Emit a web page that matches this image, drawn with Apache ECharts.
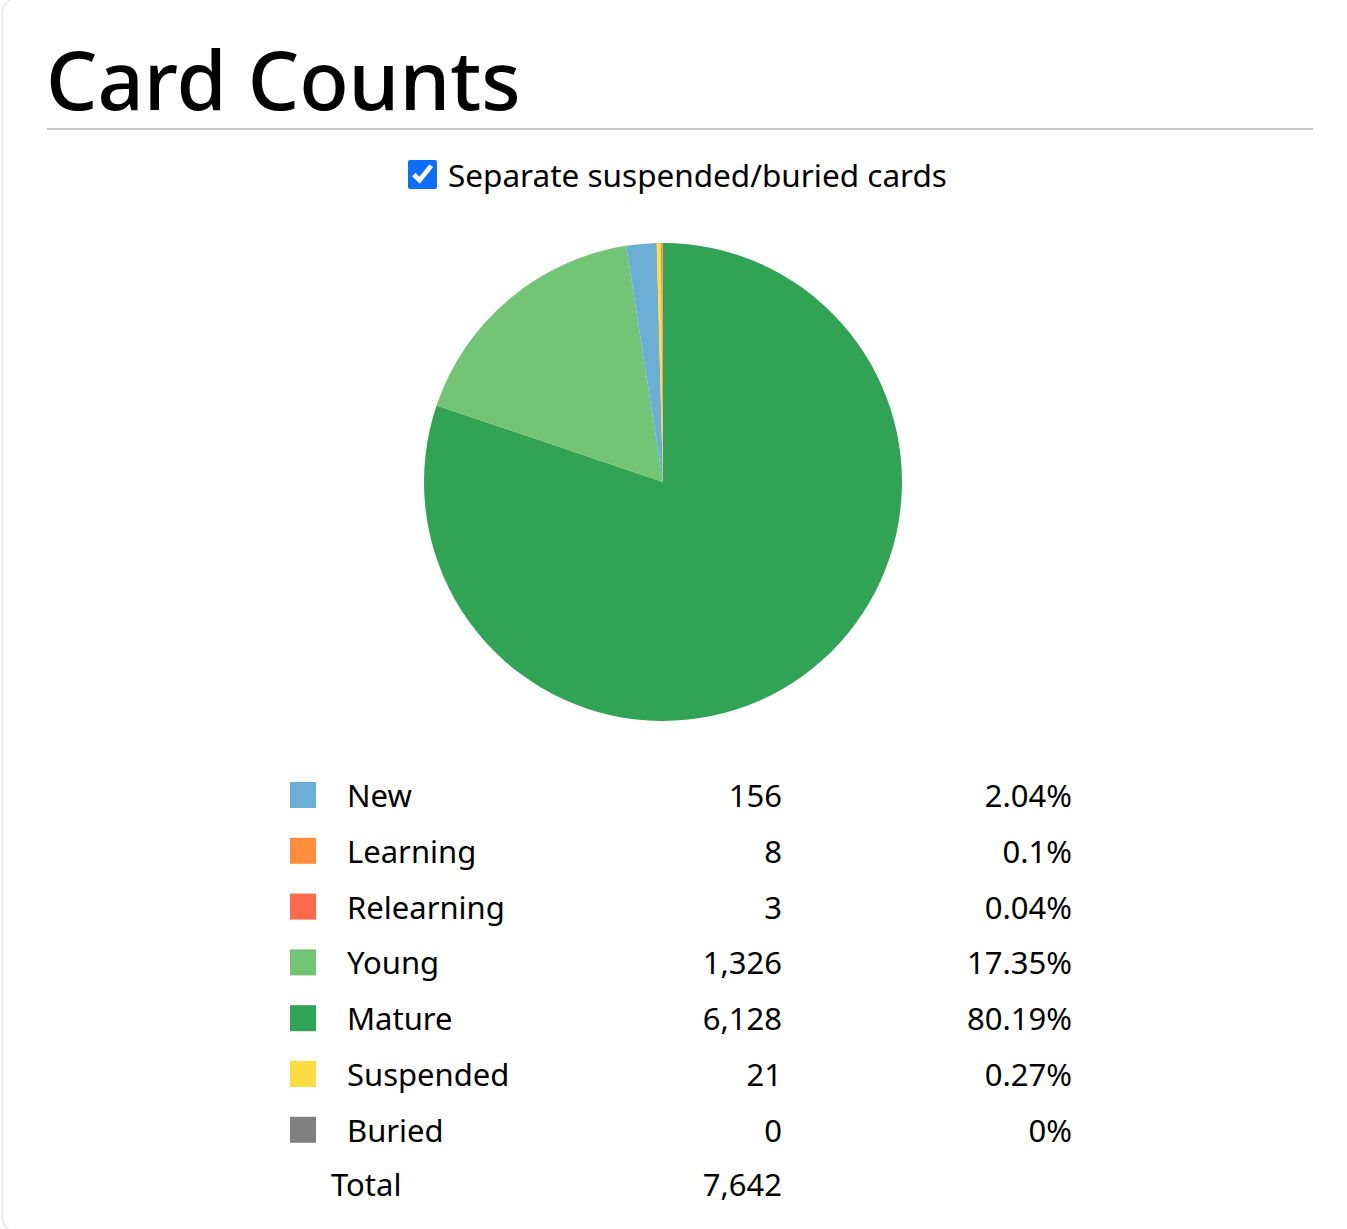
<!DOCTYPE html>
<html>
<head>
<meta charset="utf-8">
<title>Card Counts</title>
<script src="https://cdn.jsdelivr.net/npm/echarts@6/dist/echarts.min.js"></script>
<style>
  html, body { margin: 0; padding: 0; background: #fff; }
  body { width: 1347px; height: 1229px; position: relative; overflow: hidden; font-family: 'Noto Sans', sans-serif; }
  .card {
    position: absolute; left: 2px; top: -3px; width: 1400px; height: 1234px;
    border: 1px solid #e2e2e2; border-radius: 16px; box-shadow: 0 0 3px rgba(0,0,0,0.10);
    background: #fff;
  }
  h1 {
    position: absolute; left: 46px; top: 24px; margin: 0;
    font-size: 81px; font-weight: 500; line-height: 110px; color: #000;
  }
  .rule { position: absolute; left: 47px; top: 128px; width: 1266px; height: 2px; background: #c8c8c8; }
  .toggle { position: absolute; left: 408px; top: 156px; height: 36px; display: flex; align-items: center; font-size: 31.5px; color: #000; }
  .toggle input { width: 29px; height: 29px; margin: 0 11px 0 0; accent-color: #0d6efd; }
  #chart { position: absolute; left: 0; top: 0; width: 1347px; height: 1229px; }
</style>
</head>
<body>
<div class="card"></div>
<h1>Card Counts</h1>
<div class="rule"></div>
<label class="toggle"><input type="checkbox" checked>Separate suspended/buried cards</label>
<div id="chart"></div>
<script>
const names = ['New', 'Learning', 'Relearning', 'Young', 'Mature', 'Suspended', 'Buried'];
const counts = [156, 8, 3, 1326, 6128, 21, 0];
const colors = ['#6baed6', '#fd8d3c', '#fb6a4a', '#74c476', '#31a354', '#ffdc41', '#808080'];

const FONT = "'Noto Sans', sans-serif";
const FS = 31;
const total = counts.reduce((a, b) => a + b, 0);

function fmt(n) {
  return n.toLocaleString('en-US');
}

function pct(n) {
  return parseFloat(((n / total) * 100).toFixed(2)) + '%';
}

// the pie is drawn largest slice first, clockwise from the top
const pieData = names
  .map((name, i) => ({ name, value: counts[i], itemStyle: { color: colors[i] } }))
  .sort((a, b) => b.value - a.value);

const chart = echarts.init(document.getElementById('chart'), null, { renderer: 'svg' });

chart.setOption({
  animation: false,
  legend: {
    data: names,
    orient: 'vertical',
    left: 290,
    top: 779.5,
    padding: 0,
    icon: 'rect',
    itemWidth: 26,
    itemHeight: 26,
    itemGap: 24.8,
    selectedMode: false,
    textStyle: {
      fontFamily: FONT,
      fontSize: FS,
      lineHeight: 31,
      color: '#000',
      rich: {
        g: { width: 26, fontSize: FS, lineHeight: 31, fontFamily: FONT },
        n: { width: 300, fontSize: FS, lineHeight: 31, fontFamily: FONT },
        v: { width: 135, align: 'right', fontSize: FS, lineHeight: 31, fontFamily: FONT },
        p: { width: 290, align: 'right', fontSize: FS, lineHeight: 31, fontFamily: FONT },
      },
    },
    formatter(name) {
      const i = names.indexOf(name);
      return `{g|\u00a0}{n|${name}}{v|${fmt(counts[i])}}{p|${pct(counts[i])}}`;
    },
  },
  graphic: [
    {
      type: 'text',
      x: 331,
      y: 1184,
      style: { text: 'Total', font: `${FS}px ${FONT}`, fill: '#000', align: 'left', verticalAlign: 'middle' },
    },
    {
      type: 'text',
      x: 782,
      y: 1184,
      style: { text: fmt(total), font: `${FS}px ${FONT}`, fill: '#000', align: 'right', verticalAlign: 'middle' },
    },
  ],
  series: [
    {
      type: 'pie',
      center: [663, 482],
      radius: 239,
      startAngle: 90,
      clockwise: true,
      silent: true,
      label: { show: false },
      labelLine: { show: false },
      itemStyle: { borderWidth: 0 },
      emphasis: { disabled: true },
      data: pieData,
    },
  ],
});
</script>
</body>
</html>
